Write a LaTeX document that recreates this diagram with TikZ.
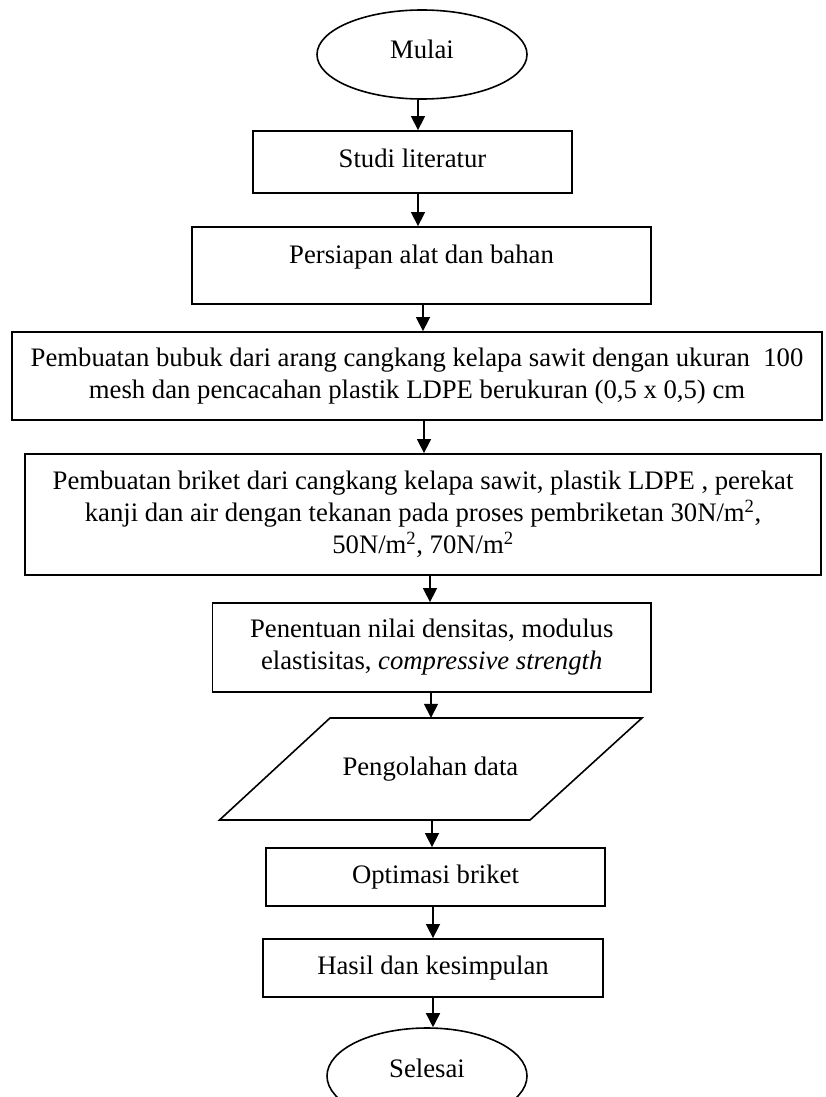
\documentclass[tikz,border=0pt]{standalone}
\usepackage{fontspec}
\setmainfont{Liberation Serif}
\usetikzlibrary{shapes.geometric,arrows.meta}
\begin{document}
\begin{tikzpicture}[x=1pt,y=-1pt,
  every node/.style={font=\fontsize{26.7}{32}\selectfont},
  boxnode/.style={draw=black,line width=1.8pt,rectangle,inner sep=0pt,align=center},
  ovalnode/.style={draw=black,line width=1.6pt,ellipse,inner sep=0pt},
  plainnode/.style={inner sep=0pt,align=center},
  arr/.style={line width=1.5pt,-{Triangle[length=14pt,width=14pt]}}]
\useasboundingbox (0,0) rectangle (825,1097);
\begin{scope}
\clip (0,0) rectangle (825,1097);
\node[ovalnode,minimum width=210pt,minimum height=89pt,text height=18pt,text depth=9pt] (mulai) at (422,54.5) {Mulai};
\node[boxnode,minimum width=319pt,minimum height=62pt,text height=18pt,text depth=8pt] (studi) at (412.5,162) {Studi literatur};
\node[boxnode,minimum width=459pt,minimum height=77pt,text height=18pt,text depth=23pt] (persiapan) at (421.5,265.5) {Persiapan alat dan bahan};
\node[boxnode,minimum width=810pt,minimum height=88pt] (bubuk) at (417,376) {Pembuatan bubuk dari arang cangkang kelapa sawit dengan ukuran\ \ 100\\mesh dan pencacahan plastik LDPE berukuran (0,5 x 0,5) cm};
\node[boxnode,minimum width=796pt,minimum height=121pt] (briket) at (423,514.5) {Pembuatan briket dari cangkang kelapa sawit, plastik LDPE , perekat\\kanji dan air dengan tekanan pada proses pembriketan 30N/m\textsuperscript{2},\\50N/m\textsuperscript{2}, 70N/m\textsuperscript{2}};
\node[boxnode,minimum width=438.5pt,minimum height=89pt] (penentuan) at (431.75,647.5) {Penentuan nilai densitas, modulus\\elastisitas, \textit{compressive strength}};
\draw[line width=1.6pt] (330,718) -- (642,718) -- (530,820) -- (219.5,820) -- cycle;
\node[plainnode,minimum width=312pt,minimum height=102pt] (pengolahan) at (430.4,769) {Pengolahan data};
\node[boxnode,minimum width=339pt,minimum height=58pt] (optimasi) at (435.5,877) {Optimasi briket};
\node[boxnode,minimum width=340pt,minimum height=58pt] (hasil) at (433,968) {Hasil dan kesimpulan};
\node[ovalnode,minimum width=200pt,minimum height=96pt,text height=18pt,text depth=16pt] (selesai) at (427,1076) {Selesai};
\end{scope}
\coordinate (c1) at (418,0);
\coordinate (c2) at (423,0);
\coordinate (c3) at (424,0);
\coordinate (c4) at (430,0);
\coordinate (c5) at (431,0);
\coordinate (c6) at (432,0);
\coordinate (c7) at (433,0);
\draw[arr] (mulai.south -| c1) -- (studi.north -| c1);
\draw[arr] (studi.south -| c1) -- (persiapan.north -| c1);
\draw[arr] (persiapan.south -| c2) -- (bubuk.north -| c2);
\draw[arr] (bubuk.south -| c3) -- (briket.north -| c3);
\draw[arr] (briket.south -| c4) -- (penentuan.north -| c4);
\draw[arr] (penentuan.south -| c5) -- (pengolahan.north -| c5);
\draw[arr] (pengolahan.south -| c6) -- (optimasi.north -| c6);
\draw[arr] (optimasi.south -| c7) -- (hasil.north -| c7);
\draw[arr] (hasil.south -| c7) -- (selesai.north -| c7);
\end{tikzpicture}
\end{document}
